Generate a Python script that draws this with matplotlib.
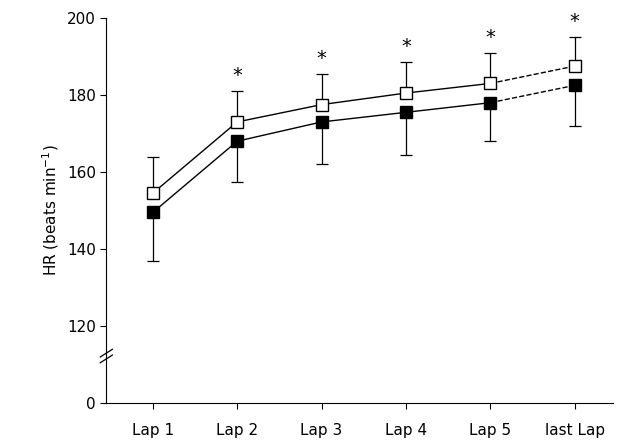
import matplotlib
matplotlib.use("Agg")
import matplotlib.pyplot as plt

laps = ["Lap 1", "Lap 2", "Lap 3", "Lap 4", "Lap 5", "last Lap"]
open_vals = [154.5, 173, 177.5, 180.5, 183, 187.5]
open_err = [9.5, 8, 8, 8, 8, 7.5]
fill_vals = [149.5, 168, 173, 175.5, 178, 182.5]
fill_err = [12.5, 10.5, 11, 11, 10, 10.5]
star = [False, True, True, True, True, True]

fig = plt.figure(figsize=(6.33, 4.48), dpi=100)
ax = fig.add_axes([0.168, 0.1, 0.80, 0.86])
x = list(range(len(laps)))

for vals, err, face, up in [(open_vals, open_err, "white", True), (fill_vals, fill_err, "black", False)]:
    ax.errorbar(x, vals, yerr=[[0]*6, err] if up else [err, [0]*6], fmt="none",
                ecolor="black", elinewidth=0.9, capsize=4, capthick=0.9, zorder=1)
    ax.plot(x[:5], vals[:5], "-", color="black", lw=1, zorder=2)
    ax.plot(x[4:], vals[4:], "--", color="black", lw=1, zorder=2)
    ax.plot(x, vals, "s", mfc=face, mec="black", ms=8, mew=1, zorder=3, ls="none")

for i in x:
    if star[i]:
        ax.text(i, open_vals[i] + open_err[i] + 1.5, "*", ha="center", va="bottom", fontsize=14)

ax.set_xlim(-0.55, 5.45)
ax.set_ylim(100, 200)
ax.set_yticks([100, 120, 140, 160, 180, 200])
ax.set_yticklabels(["0", "120", "140", "160", "180", "200"])
ax.set_xticks(x)
ax.set_xticklabels(laps)
ax.tick_params(labelsize=11, direction="out", length=4)
ax.tick_params(axis="x", pad=10)
ax.spines["top"].set_visible(False)
ax.spines["right"].set_visible(False)
ax.set_ylabel("HR (beats min$^{-1}$)", fontsize=11)

# axis break marks
kw = dict(transform=ax.transAxes, color="black", lw=0.9, clip_on=False)
for dy in (0.0, 0.015):
    ax.plot([-0.012, 0.012], [0.105 + dy, 0.125 + dy], **kw)

fig.savefig("out.png", dpi=100)
